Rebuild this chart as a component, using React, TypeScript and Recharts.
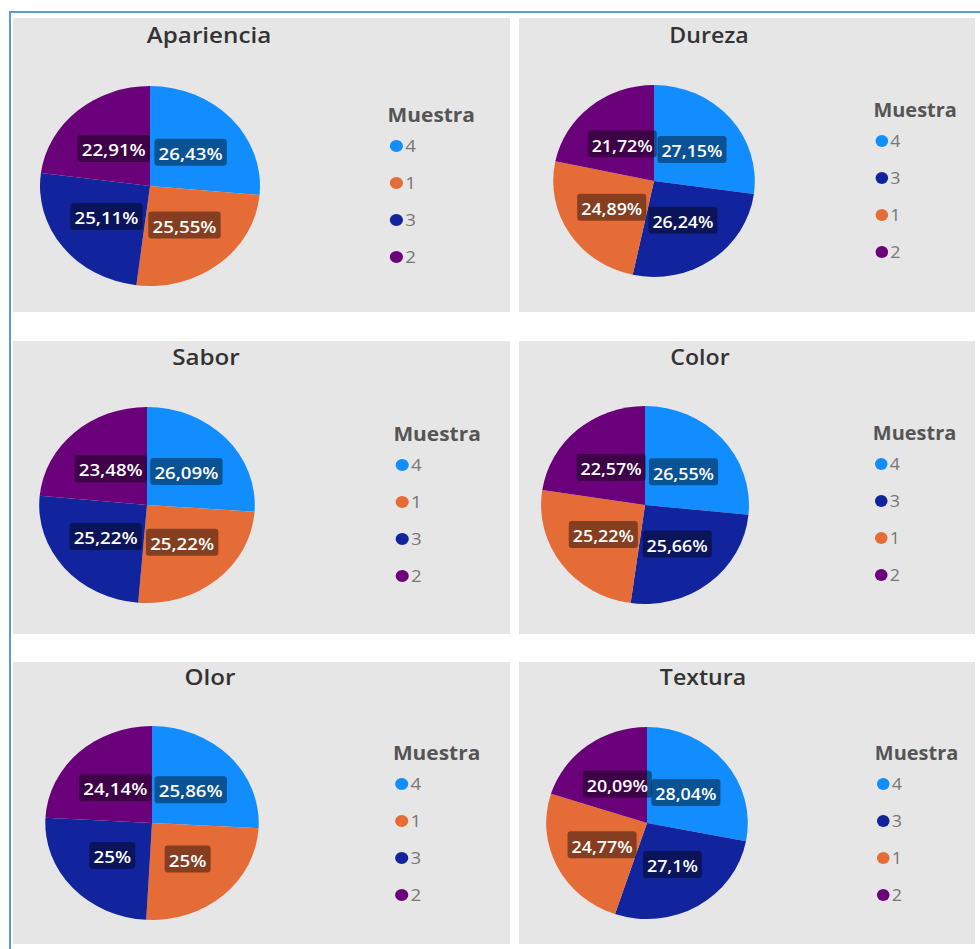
import React from "react";
import { PieChart, Pie, Cell, Legend } from "recharts";

// sample ids and their share (%) per attribute, clockwise from 12 o'clock
const aparienciaMuestras = ["4", "1", "3", "2"];
const aparienciaValues = [26.43, 25.55, 25.11, 22.91];
const durezaMuestras = ["4", "3", "1", "2"];
const durezaValues = [27.15, 26.24, 24.89, 21.72];
const saborMuestras = ["4", "1", "3", "2"];
const saborValues = [26.09, 25.22, 25.22, 23.48];
const colorMuestras = ["4", "3", "1", "2"];
const colorValues = [26.55, 25.66, 25.22, 22.57];
const olorMuestras = ["4", "1", "3", "2"];
const olorValues = [25.86, 25, 25, 24.14];
const texturaMuestras = ["4", "3", "1", "2"];
const texturaValues = [28.04, 27.1, 24.77, 20.09];

const titles = ["Apariencia", "Dureza", "Sabor", "Color", "Olor", "Textura"];
const legendTitle = "Muestra";

const COLORS: Record<string, string> = {
  "4": "#118DFF",
  "3": "#12239E",
  "1": "#E66C37",
  "2": "#6B007B",
};

const seriesList = [
  [aparienciaMuestras, aparienciaValues],
  [durezaMuestras, durezaValues],
  [saborMuestras, saborValues],
  [colorMuestras, colorValues],
  [olorMuestras, olorValues],
  [texturaMuestras, texturaValues],
] as const;

// panel box (page coords); pie centre, title, legend relative to panel.
// s = horizontal stretch of the original screenshot
const LAYOUT = [
  { x: 13, y: 18, w: 497, h: 294, cx: 137, cy: 168, r: 100, s: 1.1, tx: 196, ty: 16, lx: 353, ly: 86 },
  { x: 519, y: 18, w: 456, h: 294, cx: 135, cy: 163, r: 96, s: 1.05, tx: 190, ty: 16, lx: 344, ly: 81 },
  { x: 13, y: 341, w: 497, h: 293, cx: 134, cy: 164, r: 98, s: 1.1, tx: 193, ty: 15, lx: 358, ly: 82 },
  { x: 519, y: 341, w: 456, h: 293, cx: 126, cy: 164, r: 99, s: 1.05, tx: 181, ty: 15, lx: 343, ly: 81 },
  { x: 13, y: 662, w: 497, h: 282, cx: 139, cy: 161, r: 97, s: 1.1, tx: 197, ty: 14, lx: 358, ly: 80 },
  { x: 519, y: 662, w: 456, h: 282, cx: 128, cy: 161, r: 96, s: 1.05, tx: 184, ty: 14, lx: 345, ly: 80 },
];

const RADIAN = Math.PI / 180;
const fmt = (v: number) => String(v).replace(".", ",") + "%";
const textW = (t: string, fs: number) =>
  t.split("").reduce((a, c) => a + (c === "," ? 0.27 : c === "%" ? 0.85 : 0.57), 0) * fs;

const renderLabel = ({ cx, cy, midAngle, outerRadius, value }: any) => {
  const rr = outerRadius * 0.5;
  const x = cx + rr * Math.cos(-midAngle * RADIAN);
  const y = cy + rr * Math.sin(-midAngle * RADIAN);
  const txt = fmt(value);
  const w = textW(txt, 17) + 8;
  return (
    <g>
      <rect x={x - w / 2} y={y - 13.5} width={w} height={27} rx={3} fill="#000" fillOpacity={0.42} />
      <text
        x={x}
        y={y + 1}
        fill="#fff"
        textAnchor="middle"
        dominantBaseline="central"
        fontSize={17}
        fontWeight={600}
        fontFamily="Open Sans"
      >
        {txt}
      </text>
    </g>
  );
};

const LegendBox = ({ items }: { items: { name: string }[] }) => (
  <div style={{ fontFamily: "Open Sans" }}>
    <div style={{ fontSize: 19, fontWeight: 700, color: "#555", lineHeight: "22px" }}>{legendTitle}</div>
    {items.map((p, i) => (
      <div key={i} style={{ display: "flex", alignItems: "center", height: 37, marginTop: i === 0 ? 1 : 0 }}>
        <span
          style={{
            width: 12,
            height: 12,
            borderRadius: "50%",
            background: COLORS[p.name],
            display: "inline-block",
            marginLeft: 2,
            marginRight: 2,
          }}
        />
        <span style={{ fontSize: 17, color: "#777" }}>{p.name}</span>
      </div>
    ))}
  </div>
);

function PiePanel({ idx }: { idx: number }) {
  const L = LAYOUT[idx];
  const [names, values] = seriesList[idx];
  const data = names.map((n, i) => ({ name: n, value: values[i] }));
  return (
    <div
      style={{
        position: "absolute",
        left: L.x,
        top: L.y,
        width: L.w,
        height: L.h,
        background: "#e6e6e6",
        overflow: "hidden",
      }}
    >
      <div
        style={{
          position: "absolute",
          left: L.tx - 100,
          width: 200,
          top: L.ty - 12,
          textAlign: "center",
          fontFamily: "Open Sans",
          fontSize: 22,
          fontWeight: 600,
          color: "#333",
          lineHeight: "24px",
          transform: `scaleX(${L.s})`,
        }}
      >
        {titles[idx]}
      </div>
      <div
        style={{
          position: "absolute",
          left: 0,
          top: 0,
          width: L.w,
          height: L.h,
          transform: `scaleX(${L.s})`,
          transformOrigin: `${L.cx}px ${L.cy}px`,
        }}
      >
        <PieChart width={L.w} height={L.h} margin={{ top: 0, right: 0, bottom: 0, left: 0 }}>
          <Pie
            data={data}
            dataKey="value"
            nameKey="name"
            cx={L.cx}
            cy={L.cy}
            outerRadius={L.r}
            startAngle={90}
            endAngle={-270}
            stroke="none"
            labelLine={false}
            label={renderLabel}
            isAnimationActive={false}
          >
            {data.map((d, i) => (
              <Cell key={`cell-${i}`} fill={COLORS[d.name]} />
            ))}
          </Pie>
          <Legend
            layout="vertical"
            content={() => <LegendBox items={data} />}
            wrapperStyle={{ position: "absolute", left: L.lx, top: L.ly, width: 110 }}
          />
        </PieChart>
      </div>
    </div>
  );
}

export default function App() {
  return (
    <div
      style={{
        position: "fixed",
        left: 0,
        top: 0,
        width: 980,
        height: 949,
        background: "#fff",
        overflow: "hidden",
      }}
    >
      <div
        style={{
          position: "absolute",
          left: 9,
          top: 11,
          width: 1000,
          height: 1000,
          borderTop: "2px solid #5b9bd5",
          borderLeft: "2px solid #5b9bd5",
        }}
      />
      {LAYOUT.map((_, i) => (
        <PiePanel key={i} idx={i} />
      ))}
    </div>
  );
}
